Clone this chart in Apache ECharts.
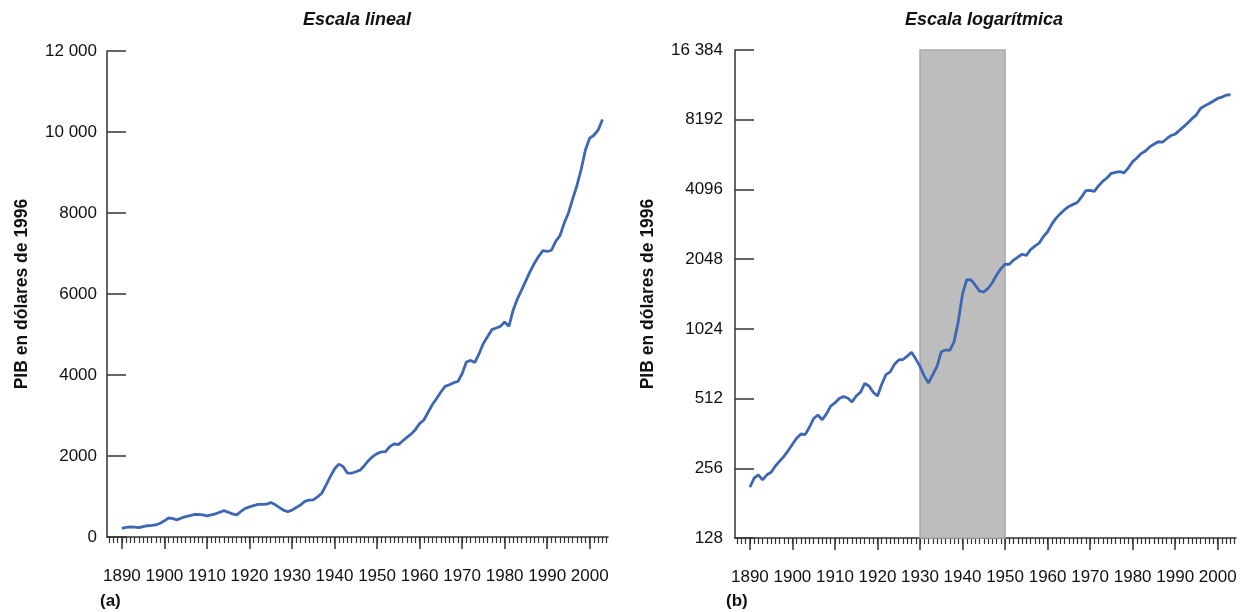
<!DOCTYPE html>
<html><head><meta charset="utf-8">
<script src="https://cdn.jsdelivr.net/npm/echarts@6/dist/echarts.min.js"></script>
<style>html,body{margin:0;padding:0;background:#fff}#c{width:1252px;height:612px}</style>
</head><body><div id="c"></div>
<script>
// ---------- data ----------
const firstYear = 1890;
const lastYear = 2003;
// PIB (panel a, escala lineal), one value per year 1890..2003
const gdpLinear = [
 215,240,252,245,232,258,278,285,298,340,
 400,470,455,425,470,505,530,555,560,545,
 522,545,570,610,650,610,570,545,630,705,
 745,775,805,808,810,850,800,730,665,625,
 665,730,790,880,912,915,990,1080,1280,1490,
 1680,1800,1740,1580,1575,1610,1650,1760,1890,1990,
 2060,2100,2110,2230,2300,2280,2370,2460,2540,2650,
 2800,2890,3080,3270,3420,3580,3720,3760,3810,3840,
 4030,4320,4360,4310,4530,4780,4950,5120,5160,5200,
 5310,5200,5600,5880,6100,6330,6560,6760,6930,7070,
 7050,7080,7300,7440,7750,8000,8350,8680,9080,9560,
 9850,9920,10050,10310
];
// PIB (panel b, escala logarítmica), one value per year 1890..2003
const gdpLog = [
 212,232,240,228,240,246,262,275,288,305,
 325,345,360,358,385,420,435,415,440,475,
 490,512,522,515,495,525,545,595,580,545,
 525,590,650,668,720,752,755,780,811,760,
 705,640,598,650,705,815,830,826,900,1100,
 1450,1670,1665,1580,1490,1480,1530,1620,1750,1860,
 1950,1945,2030,2090,2150,2125,2250,2330,2400,2560,
 2690,2900,3080,3220,3350,3460,3530,3600,3800,4050,
 4060,4020,4250,4450,4600,4810,4850,4890,4830,5080,
 5400,5600,5850,6000,6250,6420,6580,6550,6780,7000,
 7100,7370,7650,7950,8300,8600,9180,9420,9620,9870,
 10120,10250,10470,10500
];
const decadeLabels = [1890,1900,1910,1920,1930,1940,1950,1960,1970,1980,1990,2000];
const linearTickLabels = ['0','2000','4000','6000','8000','10 000','12 000'];
const logTickLabels = ['128','256','512','1024','2048','4096','8192','16 384'];
const shadedPeriod = [1930, 1950];
const titles = ['Escala lineal', 'Escala logarítmica'];
const panelTags = ['(a)', '(b)'];
const yName = 'PIB en dólares de 1996';

// ---------- build ----------
const years = [];
for (let y = firstYear; y <= lastYear; y++) years.push(y);
const minorTicks = [];
for (let y = 1887; y <= 2004; y++) minorTicks.push(y);
const linData = years.map((y, i) => [y, gdpLinear[i]]);
const logData = years.map((y, i) => [y, gdpLog[i]]);

const FONT = "'Liberation Sans', Arial, Helvetica, sans-serif";
const AX = '#333333';
const XMIN = 1886.5, XMAX = 2004.3;

const grids = [
  {left: 107, top: 51, width: 501, height: 486},
  {left: 735, top: 50, width: 501, height: 488}
];

function majorX(gi) {
  return {
    type: 'value', gridIndex: gi, min: XMIN, max: XMAX,
    axisLine: {show: true, lineStyle: {color: AX, width: 1.5}},
    axisTick: {show: true, length: 12, inside: false, customValues: decadeLabels, lineStyle: {color: AX, width: 1.5}},
    axisLabel: {show: true, customValues: decadeLabels, margin: 31, fontSize: 17, color: '#111', fontFamily: FONT,
      formatter: v => String(Math.round(v))},
    splitLine: {show: false}
  };
}
function minorX(gi) {
  return {
    type: 'value', gridIndex: gi, min: XMIN, max: XMAX, position: 'bottom',
    axisLine: {show: false},
    axisTick: {show: true, length: 6, inside: false, customValues: minorTicks, lineStyle: {color: AX, width: 1.2}},
    axisLabel: {show: false},
    splitLine: {show: false}
  };
}

const option = {
  animation: false,
  backgroundColor: '#fff',
  grid: grids,
  xAxis: [majorX(0), minorX(0), majorX(1), minorX(1)],
  yAxis: [
    {
      type: 'value', gridIndex: 0, min: 0, max: 12000, interval: 2000,
      name: yName, nameLocation: 'middle', nameRotate: 90, nameGap: 76,
      nameTextStyle: {fontSize: 17.5, fontWeight: 'bold', color: '#111', fontFamily: FONT},
      axisLine: {show: true, lineStyle: {color: AX, width: 1.5}},
      axisTick: {show: true, inside: true, length: 19, lineStyle: {color: AX, width: 1.5}},
      axisLabel: {margin: 10, fontSize: 17, color: '#111', fontFamily: FONT,
        formatter: v => linearTickLabels[Math.round(v / 2000)]},
      splitLine: {show: false}
    },
    {
      type: 'log', logBase: 2, gridIndex: 1, min: 128, max: 16384, interval: 1,
      name: yName, nameLocation: 'middle', nameRotate: 90, nameGap: 78,
      nameTextStyle: {fontSize: 17.5, fontWeight: 'bold', color: '#111', fontFamily: FONT},
      axisLine: {show: true, lineStyle: {color: AX, width: 1.5}},
      axisTick: {show: true, inside: true, length: 19, lineStyle: {color: AX, width: 1.5}},
      axisLabel: {margin: 12, fontSize: 17, color: '#111', fontFamily: FONT,
        formatter: v => logTickLabels[Math.round(Math.log2(v)) - 7]},
      splitLine: {show: false},
      minorTick: {show: false}
    }
  ],
  series: [
    {
      type: 'line', xAxisIndex: 0, yAxisIndex: 0, data: linData,
      showSymbol: false, lineStyle: {color: '#3d66b3', width: 2.8}, z: 5
    },
    {
      type: 'line', xAxisIndex: 2, yAxisIndex: 1, data: logData,
      showSymbol: false, lineStyle: {color: '#3d66b3', width: 2.8}, z: 5,
      markArea: {
        silent: true,
        itemStyle: {color: '#bdbdbd', borderColor: '#a9a9a9', borderWidth: 1.5},
        data: [[{xAxis: shadedPeriod[0]}, {xAxis: shadedPeriod[1]}]]
      }
    }
  ],
  graphic: [
    {type: 'text', x: 357, y: 20, style: {text: titles[0], font: "italic bold 18px " + FONT, fill: '#111', textAlign: 'center', textVerticalAlign: 'middle'}},
    {type: 'text', x: 984, y: 20, style: {text: titles[1], font: "italic bold 18px " + FONT, fill: '#111', textAlign: 'center', textVerticalAlign: 'middle'}},
    {type: 'text', x: 100, y: 601, style: {text: panelTags[0], font: "bold 17px " + FONT, fill: '#111', textAlign: 'left', textVerticalAlign: 'middle'}},
    {type: 'text', x: 726, y: 601, style: {text: panelTags[1], font: "bold 17px " + FONT, fill: '#111', textAlign: 'left', textVerticalAlign: 'middle'}}
  ]
};

const chart = echarts.init(document.getElementById('c'), null, {renderer: 'canvas'});
chart.setOption(option);
</script>
</body></html>
